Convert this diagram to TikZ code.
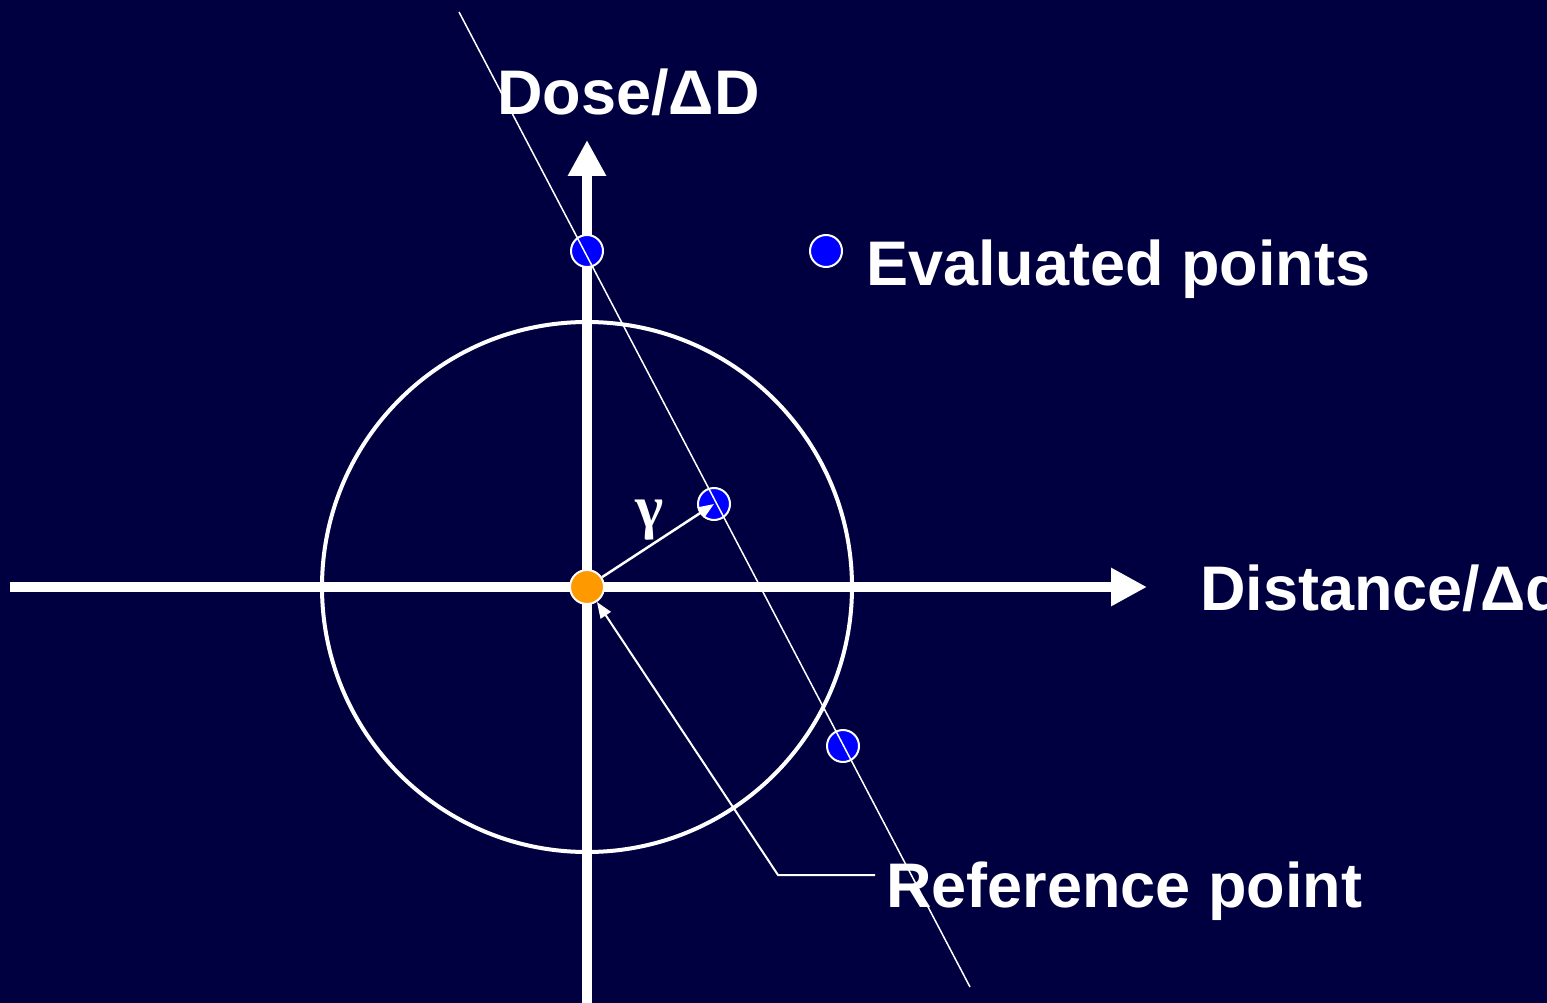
\documentclass[tikz,border=0pt]{standalone}
\usepackage{fontspec}
\setmainfont{Liberation Sans}
\newfontfamily\gamfont{Liberation Serif}
\usetikzlibrary{arrows.meta}
\definecolor{bgnavy}{RGB}{0,0,64}
\definecolor{refor}{RGB}{255,153,0}
\definecolor{evblue}{RGB}{0,0,255}
\tikzset{
  axis/.style={white, line width=10pt, -{Triangle[length=36pt,width=36pt]}},
  ring/.style={white, line width=4pt},
  evpt/.style={circle, fill=evblue, draw=white, line width=2pt, minimum size=32pt, inner sep=0pt},
  refpt/.style={circle, fill=refor, draw=white, line width=2pt, minimum size=34pt, inner sep=0pt},
  thinline/.style={white, line width=1.5pt},
  thinarrow/.style={white, line width=2.5pt, -{Triangle[length=16pt,width=12pt]}},
  lbl/.style={text=white, font=\fontsize{63}{70}\selectfont\bfseries, inner sep=0pt, anchor=base west},
}
\begin{document}
\begin{tikzpicture}[x=1pt, y=-1pt]
\fill[bgnavy] (0,0) rectangle (1547,1003);
\useasboundingbox (0,0) rectangle (1547,1003);
% axes
\coordinate (hstart) at (10,587);
\coordinate (htip) at (1147,587);
\coordinate (vstart) at (587,1003);
\coordinate (vtip) at (587,140);
\draw[axis] (hstart) -- (htip);
\draw[axis] (vstart) -- (vtip);
% circle
\draw[ring] (587,587) circle (265);
% points
\node[refpt] (ref) at (587,587) {};
\node[evpt] (e1) at (587,251) {};
\node[evpt] (e2) at (714,504) {};
\node[evpt] (e3) at (843,746) {};
\node[evpt] (leg) at (826,251) {};
% thin line
\coordinate (la) at (459,12);
\coordinate (lb) at (970,987);
\draw[thinline] (la) -- (lb);
% gamma arrow
\draw[thinarrow] (ref) -- (e2.center);
\node[text=white, font=\gamfont\bfseries\fontsize{60}{66}\selectfont, inner sep=0pt] (gam) at (650,520) {γ};
% reference leader
\coordinate (r1) at (875,875);
\coordinate (r2) at (778,875);
\draw[thinarrow, line width=2pt] (r1) -- (r2) -- (ref);
% labels
\node[lbl] (tdose) at (497,115) {Dose/ΔD};
\node[lbl] (tdist) at (1200,610) {Distance/Δd};
\node[lbl] (teval) at (866,285) {Evaluated points};
\node[lbl] (tref) at (886,907) {Reference point};
\end{tikzpicture}
\end{document}
